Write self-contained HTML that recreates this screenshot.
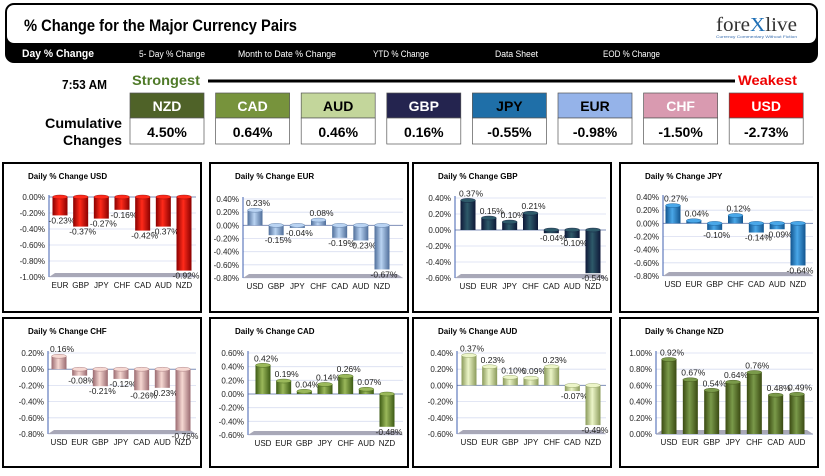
<!DOCTYPE html>
<html><head><meta charset="utf-8"><style>
html,body{margin:0;padding:0;background:#fff;width:825px;height:476px;overflow:hidden}
svg{display:block;font-family:"Liberation Sans",sans-serif}
</style></head><body>
<svg id="root" width="825" height="476" viewBox="0 0 825 476" xmlns="http://www.w3.org/2000/svg">
<defs></defs>
<g>
<rect x="5" y="3" width="813" height="60" rx="9" fill="#000"/>
<rect x="7" y="5" width="809" height="38" rx="7" fill="#fff"/>
<text x="24" y="31" font-size="17" font-weight="bold" textLength="273" lengthAdjust="spacingAndGlyphs">% Change for the Major Currency Pairs</text>
<text x="716" y="31" font-size="20" font-family="Liberation Serif,serif" fill="#333" textLength="81" lengthAdjust="spacingAndGlyphs">fore<tspan fill="#1f6fb5">X</tspan>live</text>
<text x="716" y="38" font-size="4" fill="#3a6fb0" textLength="81" lengthAdjust="spacingAndGlyphs">Currency Commentary Without Fiction</text>
<text x="22" y="57" font-size="11" font-weight="bold" fill="#fff" textLength="72" lengthAdjust="spacingAndGlyphs">Day % Change</text>
<text x="139" y="57" font-size="9" fill="#fff" textLength="66" lengthAdjust="spacingAndGlyphs">5- Day % Change</text>
<text x="238" y="57" font-size="9" fill="#fff" textLength="98" lengthAdjust="spacingAndGlyphs">Month to Date % Change</text>
<text x="373" y="57" font-size="9" fill="#fff" textLength="56" lengthAdjust="spacingAndGlyphs">YTD % Change</text>
<text x="495" y="57" font-size="9" fill="#fff" textLength="43" lengthAdjust="spacingAndGlyphs">Data Sheet</text>
<text x="603" y="57" font-size="9" fill="#fff" textLength="57" lengthAdjust="spacingAndGlyphs">EOD % Change</text>
</g>
<g>
<text x="62" y="89" font-size="13" font-weight="bold" textLength="45" lengthAdjust="spacingAndGlyphs">7:53 AM</text>
<text x="132" y="85" font-size="14" font-weight="bold" fill="#4f7a28" textLength="68" lengthAdjust="spacingAndGlyphs">Strongest</text>
<line x1="208" y1="81" x2="735" y2="81" stroke="#000" stroke-width="3"/>
<text x="738" y="85" font-size="14" font-weight="bold" fill="#e00" textLength="59" lengthAdjust="spacingAndGlyphs">Weakest</text>
<text x="45" y="128" font-size="14" font-weight="bold" textLength="77" lengthAdjust="spacingAndGlyphs">Cumulative</text>
<text x="63" y="145" font-size="14" font-weight="bold" textLength="59" lengthAdjust="spacingAndGlyphs">Changes</text>
<g id="rank"></g>
</g>
<g id="charts"></g>
</svg>
<script>
const NS='http://www.w3.org/2000/svg';
function mk(tag,attrs,parent){const e=document.createElementNS(NS,tag);for(const k in attrs)e.setAttribute(k,attrs[k]);if(parent)parent.appendChild(e);return e;}

// ranking data
const rankCurrencies=['NZD','CAD','AUD','GBP','JPY','EUR','CHF','USD'];
const rankValues=[4.50,0.64,0.46,0.16,-0.55,-0.98,-1.50,-2.73];
const rankFill=['#4f6228','#77933c','#c3d69b','#24244f','#1f6fa8','#95b3e9','#d99ab0','#ff0000'];
const rankText=['#fff','#fff','#000','#fff','#000','#000','#fff','#fff'];
const rk=document.getElementById('rank');
rankCurrencies.forEach((c,i)=>{
  const x=130+i*85.6;
  const g=mk('g',{},rk);
  
  
  mk('rect',{x:x,y:93,width:74,height:25,fill:rankFill[i],stroke:'#555','stroke-width':0.7},g);
  mk('rect',{x:x,y:118,width:74,height:26,fill:'#fff',stroke:'#555','stroke-width':0.7},g);
  const t=mk('text',{x:x+37,y:111,'text-anchor':'middle','font-size':14,'font-weight':'bold',fill:rankText[i]},g);t.textContent=c;
  const v=mk('text',{x:x+37,y:137,'text-anchor':'middle','font-size':14,'font-weight':'bold'},g);v.textContent=rankValues[i].toFixed(2)+'%';
});

// chart data
const usdCats=['EUR','GBP','JPY','CHF','CAD','AUD','NZD'];
const usdVals=[-0.23,-0.37,-0.27,-0.16,-0.42,-0.37,-0.92];
const usdTicks=[0,-0.2,-0.4,-0.6,-0.8,-1.0];
const eurCats=['USD','GBP','JPY','CHF','CAD','AUD','NZD'];
const eurVals=[0.23,-0.15,-0.04,0.08,-0.19,-0.23,-0.67];
const eurTicks=[0.4,0.2,0,-0.2,-0.4,-0.6,-0.8];
const gbpCats=['USD','EUR','JPY','CHF','CAD','AUD','NZD'];
const gbpVals=[0.37,0.15,0.10,0.21,-0.04,-0.10,-0.54];
const gbpTicks=[0.4,0.2,0,-0.2,-0.4,-0.6];
const jpyCats=['USD','EUR','GBP','CHF','CAD','AUD','NZD'];
const jpyVals=[0.27,0.04,-0.10,0.12,-0.14,-0.09,-0.64];
const jpyTicks=[0.4,0.2,0,-0.2,-0.4,-0.6,-0.8];
const chfCats=['USD','EUR','GBP','JPY','CAD','AUD','NZD'];
const chfVals=[0.16,-0.08,-0.21,-0.12,-0.26,-0.23,-0.76];
const chfTicks=[0.2,0,-0.2,-0.4,-0.6,-0.8];
const cadCats=['USD','EUR','GBP','JPY','CHF','AUD','NZD'];
const cadVals=[0.42,0.19,0.04,0.14,0.26,0.07,-0.48];
const cadTicks=[0.6,0.4,0.2,0,-0.2,-0.4,-0.6];
const audCats=['USD','EUR','GBP','JPY','CHF','CAD','NZD'];
const audVals=[0.37,0.23,0.10,0.09,0.23,-0.07,-0.49];
const audTicks=[0.4,0.2,0,-0.2,-0.4,-0.6];
const nzdCats=['USD','EUR','GBP','JPY','CHF','CAD','AUD'];
const nzdVals=[0.92,0.67,0.54,0.64,0.76,0.48,0.49];
const nzdTicks=[1.0,0.8,0.6,0.4,0.2,0];

const panels=[
 {n:'usd',cats:usdCats,vals:usdVals,ticks:usdTicks,bx:3,by:163,yTop:197,yBot:277,ax:49,c0:60,c6:184,col:['#8a0000','#ff2a1a']},
 {n:'eur',cats:eurCats,vals:eurVals,ticks:eurTicks,bx:210,by:163,yTop:199,yBot:278,ax:243,c0:255,c6:382,col:['#4f6e9a','#b9d3f2']},
 {n:'gbp',cats:gbpCats,vals:gbpVals,ticks:gbpTicks,bx:413,by:163,yTop:198,yBot:278,ax:455,c0:468,c6:593,col:['#0e1838','#2e5a6a']},
 {n:'jpy',cats:jpyCats,vals:jpyVals,ticks:jpyTicks,bx:620,by:163,yTop:197,yBot:276,ax:663,c0:673,c6:798,col:['#12548e','#49a7e8']},
 {n:'chf',cats:chfCats,vals:chfVals,ticks:chfTicks,bx:3,by:318,yTop:353,yBot:434,ax:48,c0:59,c6:183,col:['#9a6a70','#f6d8d2']},
 {n:'cad',cats:cadCats,vals:cadVals,ticks:cadTicks,bx:210,by:318,yTop:353,yBot:435,ax:248,c0:263,c6:387,col:['#3c5a14','#9ab85a']},
 {n:'aud',cats:audCats,vals:audVals,ticks:audTicks,bx:413,by:318,yTop:353,yBot:434,ax:457,c0:469,c6:593,col:['#8a9a5a','#ecf5c8']},
 {n:'nzd',cats:nzdCats,vals:nzdVals,ticks:nzdTicks,bx:620,by:318,yTop:353,yBot:434,ax:656,c0:669,c6:797,col:['#3a4a12','#7a9a4a']}
];
const root=document.getElementById('charts');
const defs=document.querySelector('defs');
panels.forEach(p=>{
  const g=mk('g',{},root);
  
  
  const grad=mk('linearGradient',{id:'g-'+p.n,x1:0,x2:1,y1:0,y2:0},defs);
  mk('stop',{offset:'0',"stop-color":p.col[0]},grad);
  mk('stop',{offset:'0.45',"stop-color":p.col[1]},grad);
  mk('stop',{offset:'1',"stop-color":p.col[0]},grad);
  const box=mk('rect',{x:p.bx,y:p.by,width:198,height:149,fill:'#fff',stroke:'#000','stroke-width':2},g);
  
  
  const tt=mk('text',{x:p.bx+25,y:p.by+16,'font-size':8,'font-weight':'bold'},g);
  tt.textContent='Daily % Change '+p.n.toUpperCase();
  
  
  const tmax=p.ticks[0],tmin=p.ticks[p.ticks.length-1];
  const y=v=>p.yTop+(tmax-v)/(tmax-tmin)*(p.yBot-p.yTop);
  const right=p.bx+193;
  p.ticks.forEach(t=>{
    mk('line',{x1:p.ax,x2:right,y1:y(t),y2:y(t),stroke:t===0?'#7f8fb8':'#d8ddf0','stroke-width':t===0?1:0.8},g);
    const tl=mk('text',{x:p.ax-4,y:y(t)+3,'text-anchor':'end','font-size':8,fill:'#222'},g);
    tl.textContent=t.toFixed(2)+'%';
    
    
  });
  mk('line',{x1:p.ax,x2:p.ax,y1:p.yTop-2,y2:p.yBot,stroke:'#4060b0','stroke-width':1},g);
  mk('polygon',{points:`${p.ax},${p.yBot} ${right},${p.yBot} ${right-6},${p.yBot-4} ${p.ax+6},${p.yBot-4}`,fill:'#a8a8b8'},g);
  const step=(p.c6-p.c0)/6, bw=15;
  p.cats.forEach((c,i)=>{
    const cx=p.c0+i*step, v=p.vals[i];
    const y0=y(0), y1=y(v);
    const top=Math.min(y0,y1), h=Math.max(1.5,Math.abs(y1-y0));
    const bar=mk('rect',{x:cx-bw/2,y:top,width:bw,height:h,fill:'url(#g-'+p.n+')'},g);
    
    
    mk('ellipse',{cx:cx,cy:top,rx:bw/2,ry:2,fill:p.col[1],stroke:p.col[0],'stroke-width':0.4},g);
    const lab=mk('text',{x:cx+(v<0?2:3),y:v>=0?y1-4:y1+8,'text-anchor':'middle','font-size':8.5,fill:'#222'},g);
    lab.textContent=v.toFixed(2)+'%';
    
    
    const cl=mk('text',{x:cx,y:p.yBot+11,'text-anchor':'middle','font-size':8,fill:'#111'},g);
    cl.textContent=c;
    
    
  });
});
</script>
</body></html>
